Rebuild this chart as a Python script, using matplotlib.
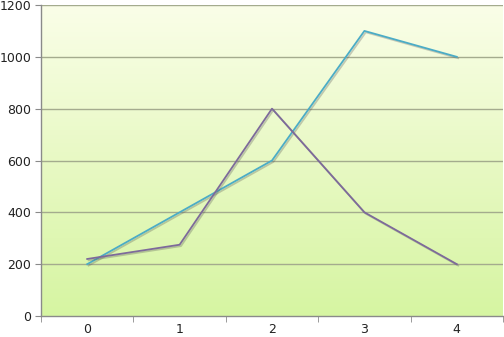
import matplotlib
matplotlib.use("Agg")
import matplotlib.pyplot as plt
import matplotlib.patheffects as pe
import numpy as np
from matplotlib.colors import LinearSegmentedColormap

categories = [0, 1, 2, 3, 4]
series_a = [200, 400, 600, 1100, 1000]
series_b = [220, 275, 800, 400, 200]
y_ticks = [0, 200, 400, 600, 800, 1000, 1200]

fig = plt.figure(figsize=(5.04, 3.37), dpi=100)
fig.patch.set_facecolor("white")
ax = fig.add_axes([41/504, 21/337, 462/504, 311/337])

cmap = LinearSegmentedColormap.from_list("bg", ["#d6f5a2", "#e8f9c4", "#fafee8"])
grad = np.linspace(0, 1, 256).reshape(-1, 1)
ax.imshow(grad, cmap=cmap, aspect="auto", origin="lower",
          extent=[-0.5, 4.5, 0, 1200], zorder=0)

for yv in y_ticks[1:]:
    ax.axhline(yv, color="#a4ab8e", lw=1.0, zorder=1)

shadow = [pe.SimpleLineShadow(offset=(1.0, -1.0), shadow_color="#555555", alpha=0.3), pe.Normal()]
ax.plot(categories, series_a, color="#4bacc6", lw=1.3, zorder=3, path_effects=shadow)
ax.plot(categories, series_b, color="#7d6a9a", lw=1.3, zorder=3, path_effects=shadow)

ax.set_xlim(-0.5, 4.5)
ax.set_ylim(0, 1200)
ax.set_yticks(y_ticks)
ax.set_xticks(categories)
ax.set_xticks([-0.5, 0.5, 1.5, 2.5, 3.5, 4.5], minor=True)
ax.tick_params(axis="x", which="major", length=0, pad=5, labelsize=9, colors="#222222")
ax.tick_params(axis="x", which="minor", length=4, color="#8a8a8a")
ax.tick_params(axis="y", length=4, color="#8a8a8a", labelsize=9, pad=3, labelcolor="#222222")
for s in ["top", "right"]:
    ax.spines[s].set_visible(False)
for s in ["left", "bottom"]:
    ax.spines[s].set_color("#8a8a8a")
    ax.spines[s].set_linewidth(1.0)

fig.savefig("out.png", dpi=100)
